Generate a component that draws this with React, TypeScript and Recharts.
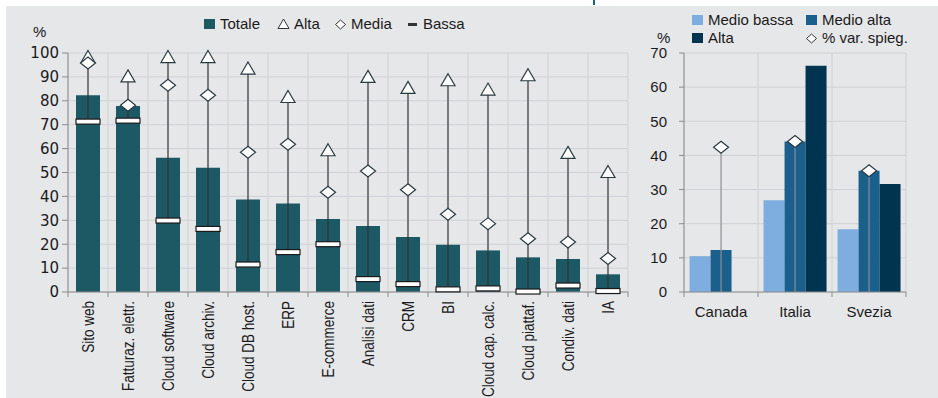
import React from 'react';
import {
  ComposedChart,
  Bar,
  Scatter,
  XAxis,
  YAxis,
  CartesianGrid,
} from 'recharts';

// --- pannello sinistro: adozione tecnologie per classe di produttività
const categories = [
  'Sito web',
  'Fatturaz. elettr.',
  'Cloud software',
  'Cloud archiv.',
  'Cloud DB host.',
  'ERP',
  'E-commerce',
  'Analisi dati',
  'CRM',
  'BI',
  'Cloud cap. calc.',
  'Cloud piattaf.',
  'Condiv. dati',
  'IA',
];
const totale = [82.3, 77.8, 56.2, 52.0, 38.7, 37.0, 30.5, 27.6, 23.0, 19.8, 17.4, 14.5, 13.8, 7.4];
const alta = [98.3, 90.2, 98.3, 98.3, 93.5, 81.6, 59.3, 90.0, 85.4, 88.6, 84.7, 90.7, 58.2, 50.2];
const media = [95.8, 78.1, 86.5, 82.3, 58.5, 61.8, 41.7, 50.6, 42.8, 32.5, 28.6, 22.3, 20.9, 14.0];
const bassa = [71.3, 71.7, 29.9, 26.4, 11.5, 16.7, 20.0, 5.4, 3.3, 1.1, 1.5, 0.2, 2.7, 0.4];
const leftTicks = [0, 10, 20, 30, 40, 50, 60, 70, 80, 90, 100];

// --- pannello destro: paesi
const countries = ['Canada', 'Italia', 'Svezia'];
const medioBassa = [10.5, 26.9, 18.4];
const medioAlta = [12.3, 44.1, 35.5];
const altaProd: (number | null)[] = [null, 66.3, 31.6];
const varSpieg = [42.4, 44.1, 35.5];
const rightTicks = [0, 10, 20, 30, 40, 50, 60, 70];

const leftData = categories.map((name, i) => ({
  name,
  totale: totale[i],
  alta: alta[i],
  media: media[i],
  bassa: bassa[i],
}));

const rightData = countries.map((name, i) => ({
  name,
  mb: medioBassa[i],
  ma: medioAlta[i],
  al: altaProd[i],
  vs: varSpieg[i],
}));

const BG = '#e6e7e9';
const GRID = '#cfd1d4';
const AXIS = '#8c8c8c';
const TEAL = '#1d5965';
const C_MB = '#7eaedf';
const C_MA = '#1b5f8c';
const C_AL = '#01344f';
const SANS = "'Liberation Sans', Arial, sans-serif";
const WIDE = "'DejaVu Sans', sans-serif";

const L_W = 640;
const L_H = 398;
const L_MARGIN = { top: 53, right: 12, bottom: 6, left: 20 };
const L_YW = 48;
const L_BAND = (L_W - L_MARGIN.left - L_YW - L_MARGIN.right) / categories.length;

const R_W = 308;
const R_H = 398;
const R_MARGIN = { top: 53, right: 32, bottom: 66, left: 10 };
const R_YW = 44;
const R_BAND = (R_W - R_MARGIN.left - R_YW - R_MARGIN.right) / countries.length;

// griglia verticale sui confini delle categorie
const boundaries = (n: number) => (props: any) => {
  const { offset } = props;
  return Array.from({ length: n + 1 }, (_, i) => offset.left + (offset.width * i) / n);
};

const LeftTick = (props: any) => {
  const { x, y, payload, index } = props;
  const last = index === categories.length - 1;
  return (
    <g>
      <line x1={x - L_BAND / 2} x2={x - L_BAND / 2} y1={y} y2={y + 5} stroke={AXIS} />
      {last && <line x1={x + L_BAND / 2} x2={x + L_BAND / 2} y1={y} y2={y + 5} stroke={AXIS} />}
      <text
        transform={`translate(${x},${y + 9}) scale(1.25,1) rotate(-90)`}
        textAnchor="end"
        dy="0.36em"
        fontFamily={SANS}
        fontSize={13.5}
        fill="#1a1a1a"
      >
        {payload.value}
      </text>
    </g>
  );
};

const RightTick = (props: any) => {
  const { x, y, payload, index } = props;
  const last = index === countries.length - 1;
  return (
    <g>
      <line x1={x - R_BAND / 2} x2={x - R_BAND / 2} y1={y} y2={y + 5} stroke={AXIS} />
      {last && <line x1={x + R_BAND / 2} x2={x + R_BAND / 2} y1={y} y2={y + 5} stroke={AXIS} />}
      <text x={x} y={y + 20} textAnchor="middle" dy="0.36em" fontFamily={SANS} fontSize={15} fill="#1a1a1a">
        {payload.value}
      </text>
    </g>
  );
};

const StemShape = (props: any) => {
  const { x, y, width, height } = props;
  if (height == null || isNaN(height)) return null;
  const cx = x + width / 2;
  return <line x1={cx} x2={cx} y1={y} y2={y + height} stroke="#333" strokeWidth={1.2} />;
};

const Triangle = ({ cx, cy }: any) => (
  <path
    d={`M${cx},${cy - 6.5} L${cx + 7},${cy + 5.5} L${cx - 7},${cy + 5.5} Z`}
    fill="#fff"
    stroke="#2a3a40"
    strokeWidth={1.2}
  />
);

const Diamond = ({ cx, cy }: any) => (
  <path
    d={`M${cx},${cy - 6} L${cx + 7.5},${cy} L${cx},${cy + 6} L${cx - 7.5},${cy} Z`}
    fill="#fff"
    stroke="#2a3a40"
    strokeWidth={1.2}
  />
);

const BassaMark = ({ cx, cy }: any) => (
  <rect x={cx - 12} y={cy - 2.5} width={24} height={5} fill="#fff" stroke="#1a1a1a" strokeWidth={1.2} />
);

// asta grigia da 0 + rombo in cima
const SpiegShape = (props: any) => {
  const { x, y, width, height } = props;
  if (height == null || isNaN(height)) return null;
  const cx = x + width / 2;
  return (
    <g>
      <line x1={cx} x2={cx} y1={y} y2={y + height} stroke="#8a8f94" strokeWidth={1.2} />
      <Diamond cx={cx} cy={y} />
    </g>
  );
};

const textStyle: React.CSSProperties = {
  position: 'absolute',
  fontFamily: SANS,
  fontSize: 15,
  color: '#1a1a1a',
  lineHeight: '18px',
  whiteSpace: 'nowrap',
};

const Icon = ({ kind, color }: { kind: string; color?: string }) => (
  <svg width={14} height={14} style={{ marginRight: 3, verticalAlign: 'middle' }}>
    {kind === 'square' && <rect x={1} y={2} width={11} height={10} fill={color} />}
    {kind === 'triangle' && <path d="M6.5,2 L12,11.5 L1,11.5 Z" fill="#fff" stroke="#333" />}
    {kind === 'diamond' && <path d="M6.5,3 L11.5,7.5 L6.5,12 L1.5,7.5 Z" fill="#fff" stroke="#333" />}
    {kind === 'dash' && <rect x={2} y={6} width={9} height={3} fill="#333" />}
  </svg>
);

const LegendItem = ({ left, top, kind, color, label }: any) => (
  <div style={{ ...textStyle, left, top, display: 'flex', alignItems: 'center' }}>
    <Icon kind={kind} color={color} />
    <span>{label}</span>
  </div>
);

export default function App() {
  return (
    <div style={{ position: 'absolute', left: 0, top: 0, width: 938, height: 398, background: '#fff', overflow: 'hidden' }}>
      <div style={{ position: 'absolute', left: 6, top: 6, width: 932, height: 392, background: BG }} />
      <div style={{ position: 'absolute', left: 593, top: 0, width: 2, height: 5, background: C_MA }} />

      {/* legenda sinistra */}
      <LegendItem left={203} top={15} kind="square" color={TEAL} label="Totale" />
      <LegendItem left={277} top={15} kind="triangle" label="Alta" />
      <LegendItem left={334} top={15} kind="diamond" label="Media" />
      <LegendItem left={406} top={15} kind="dash" label="Bassa" />
      <div style={{ ...textStyle, left: 33, top: 23 }}>%</div>

      {/* legenda destra */}
      <LegendItem left={691} top={11} kind="square" color={C_MB} label="Medio bassa" />
      <LegendItem left={805} top={11} kind="square" color={C_MA} label="Medio alta" />
      <LegendItem left={691} top={29} kind="square" color={C_AL} label="Alta" />
      <LegendItem left={805} top={29} kind="diamond" label="% var. spieg." />
      <div style={{ ...textStyle, left: 657, top: 29 }}>%</div>

      <div style={{ position: 'absolute', left: 0, top: 0 }}>
        <ComposedChart width={L_W} height={L_H} data={leftData} margin={L_MARGIN} barCategoryGap="20%">
          <CartesianGrid stroke={GRID} verticalCoordinatesGenerator={boundaries(categories.length)} />
          <XAxis
            dataKey="name"
            interval={0}
            height={100}
            tickLine={false}
            tickSize={0}
            tickMargin={0}
            axisLine={{ stroke: AXIS }}
            tick={<LeftTick />}
          />
          <XAxis xAxisId="stem" dataKey="name" hide />
          <YAxis
            width={L_YW}
            domain={[0, 100]}
            ticks={leftTicks}
            interval={0}
            tickSize={6}
            tickMargin={3}
            axisLine={{ stroke: AXIS }}
            tickLine={{ stroke: AXIS }}
            tick={{ fill: '#1a1a1a', fontSize: 15, fontFamily: WIDE }}
          />
          <Bar dataKey="totale" fill={TEAL} isAnimationActive={false} />
          <Bar
            xAxisId="stem"
            dataKey={(d: any) => [d.bassa, d.alta]}
            shape={<StemShape />}
            isAnimationActive={false}
          />
          <Scatter dataKey="bassa" shape={<BassaMark />} isAnimationActive={false} />
          <Scatter dataKey="alta" shape={<Triangle />} isAnimationActive={false} />
          <Scatter dataKey="media" shape={<Diamond />} isAnimationActive={false} />
        </ComposedChart>
      </div>

      <div style={{ position: 'absolute', left: 630, top: 0 }}>
        <ComposedChart
          width={R_W}
          height={R_H}
          data={rightData}
          margin={R_MARGIN}
          barCategoryGap="7.5%"
          barGap={0}
        >
          <CartesianGrid stroke={GRID} verticalCoordinatesGenerator={boundaries(countries.length)} />
          <XAxis
            dataKey="name"
            interval={0}
            height={40}
            tickLine={false}
            tickSize={0}
            tickMargin={0}
            axisLine={{ stroke: AXIS }}
            tick={<RightTick />}
          />
          <XAxis xAxisId="stem" dataKey="name" hide />
          <YAxis
            width={R_YW}
            domain={[0, 70]}
            ticks={rightTicks}
            interval={0}
            tickSize={5}
            tickMargin={12}
            axisLine={{ stroke: AXIS }}
            tickLine={{ stroke: AXIS }}
            tick={{ fill: '#1a1a1a', fontSize: 15, fontFamily: SANS }}
          />
          <Bar dataKey="mb" fill={C_MB} isAnimationActive={false} />
          <Bar dataKey="ma" fill={C_MA} isAnimationActive={false} />
          <Bar dataKey="al" fill={C_AL} isAnimationActive={false} />
          <Bar xAxisId="stem" dataKey="vs" shape={<SpiegShape />} isAnimationActive={false} />
        </ComposedChart>
      </div>
    </div>
  );
}
